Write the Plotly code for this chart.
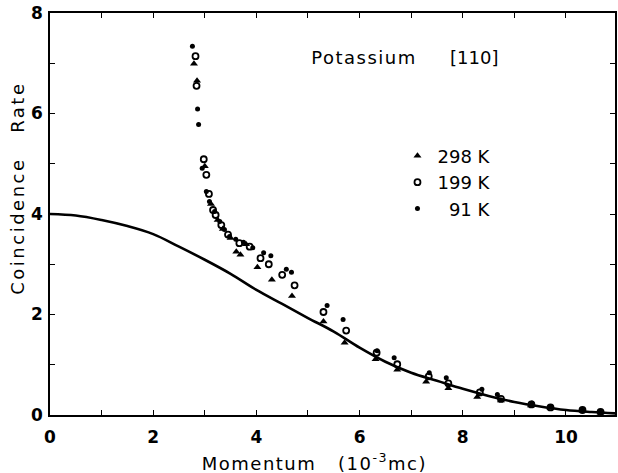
import plotly.graph_objects as go

# Theoretical curve
curve_x = [0, 0.5, 1.0, 1.5, 2.0, 2.5, 3.0, 3.5, 4.0, 4.5, 5.0, 5.5, 6.0, 6.5,
           7.0, 7.5, 8.0, 8.5, 9.0, 9.5, 10.0, 10.5, 11.0]
curve_y = [4.00, 3.97, 3.88, 3.76, 3.60, 3.35, 3.09, 2.81, 2.49, 2.21, 1.93, 1.66,
           1.34, 1.06, 0.84, 0.68, 0.52, 0.38, 0.26, 0.17, 0.10, 0.06, 0.03]

# 298 K (triangles)
x298 = [2.79, 2.85, 3.00, 3.12, 3.25, 3.35, 3.50, 3.61, 3.69, 3.80, 4.02, 4.30, 4.69,
        5.30, 5.71, 6.31, 6.73, 7.29, 7.72, 8.28, 8.74, 9.32, 9.70, 10.32, 10.67]
y298 = [6.99, 6.65, 4.95, 4.20, 3.88, 3.70, 3.52, 3.25, 3.19, 3.40, 2.94, 2.69, 2.37,
        1.86, 1.44, 1.11, 0.90, 0.66, 0.53, 0.36, 0.29, 0.19, 0.14, 0.09, 0.05]

# 199 K (open circles)
x199 = [2.82, 2.84, 2.98, 3.03, 3.08, 3.16, 3.21, 3.32, 3.45, 3.67, 3.87, 4.08, 4.24,
        4.50, 4.74, 5.30, 5.74, 6.33, 6.73, 7.34, 7.72, 8.33, 8.74, 9.33, 9.70, 10.32, 10.67]
y199 = [7.14, 6.55, 5.09, 4.78, 4.40, 4.08, 3.98, 3.78, 3.59, 3.42, 3.35, 3.12, 3.00,
        2.79, 2.58, 2.05, 1.68, 1.24, 1.01, 0.77, 0.63, 0.45, 0.32, 0.21, 0.15, 0.10, 0.06]

# 91 K (dots)
x91 = [2.76, 2.86, 2.88, 2.95, 3.03, 3.09, 3.19, 3.29, 3.38, 3.48, 3.60, 3.75, 3.93,
       4.14, 4.28, 4.58, 4.68, 5.37, 5.68, 6.34, 6.67, 7.35, 7.68, 8.37, 8.67, 9.34,
       9.70, 10.32, 10.67]
y91 = [7.34, 6.09, 5.78, 4.91, 4.45, 4.25, 4.05, 3.85, 3.69, 3.55, 3.50, 3.44, 3.33,
       3.23, 3.17, 2.90, 2.84, 2.18, 1.90, 1.28, 1.14, 0.84, 0.74, 0.51, 0.41, 0.24,
       0.17, 0.11, 0.07]

x_tickvals = list(range(0, 12))
x_ticktext = ["0", "", "2", "", "4", "", "6", "", "8", "", "10", ""]
y_tickvals = list(range(0, 9))
y_ticktext = ["0", "", "2", "", "4", "", "6", "", "8"]

FONT = "DejaVu Sans"

fig = go.Figure()
fig.add_trace(go.Scatter(x=curve_x, y=curve_y, mode="lines",
                         line=dict(color="black", width=2.6, shape="spline"),
                         showlegend=False, hoverinfo="skip"))
fig.add_trace(go.Scatter(x=x298, y=y298, mode="markers", name="298 K",
                         marker=dict(symbol="triangle-up", size=7, color="black")))
fig.add_trace(go.Scatter(x=x199, y=y199, mode="markers", name="199 K",
                         marker=dict(symbol="circle-open", size=6, color="black",
                                     line=dict(width=1.8, color="black"))))
fig.add_trace(go.Scatter(x=x91, y=y91, mode="markers", name="\u00a0\u00a091 K",
                         marker=dict(symbol="circle", size=5, color="black")))

axis_common = dict(
    ticks="inside", ticklen=5, tickwidth=1.2, tickcolor="black",
    showline=True, linecolor="black", linewidth=1.5, mirror="ticks",
    showgrid=False, zeroline=False,
    tickfont=dict(family=FONT, size=17, color="black", weight="bold"),
)

fig.update_layout(
    width=618, height=473,
    margin=dict(l=50, r=1, t=13, b=58),
    paper_bgcolor="white", plot_bgcolor="white",
    xaxis=dict(range=[0, 10.95], tickvals=x_tickvals, ticktext=x_ticktext,
               ticklabelstandoff=6, **axis_common),
    yaxis=dict(range=[0, 8], tickvals=y_tickvals, ticktext=y_ticktext,
               ticklabelstandoff=2, **axis_common),
    legend=dict(x=0.615, y=0.69, xanchor="left", yanchor="top",
                bgcolor="rgba(0,0,0,0)", tracegroupgap=0,
                font=dict(family=FONT, size=18, color="black")),
    showlegend=True,
    annotations=[
        dict(text="Potassium", xref="paper", yref="paper", x=0.555, y=0.89,
             showarrow=False, xanchor="center", yanchor="middle",
             font=dict(family=FONT, size=18, color="black")),
        dict(text="[110]", xref="paper", yref="paper", x=0.751, y=0.89,
             showarrow=False, xanchor="center", yanchor="middle",
             font=dict(family=FONT, size=18, color="black")),
        dict(text="Momentum\u00a0\u00a0\u00a0(10<sup>-3</sup>mc)", xref="paper", yref="paper",
             x=0.469, y=-0.117, showarrow=False, xanchor="center", yanchor="middle",
             font=dict(family=FONT, size=18, color="black")),
        dict(text="Coincidence\u00a0\u00a0\u00a0Rate", xref="paper", yref="paper",
             x=-0.056, y=0.565, showarrow=False, xanchor="center", yanchor="middle",
             textangle=-90, font=dict(family=FONT, size=18, color="black")),
    ],
)

post = """
document.body.style.margin = '0';
document.body.style.padding = '0';
var gd = document.getElementById('{plot_id}');
function spaceText(){
  gd.querySelectorAll('.annotation-text').forEach(function(t){
    var s = t.textContent;
    if (s.indexOf('Coincidence') >= 0) { t.style.letterSpacing = '2.5px'; }
    else if (s.indexOf('Momentum') >= 0) { t.style.letterSpacing = '1.5px'; }
    else if (s.indexOf('Potassium') >= 0) { t.style.letterSpacing = '1.5px'; }
  });
}
spaceText();
gd.on('plotly_afterplot', spaceText);
"""

fig.write_html("out.html", post_script=post, config={"displayModeBar": False})
